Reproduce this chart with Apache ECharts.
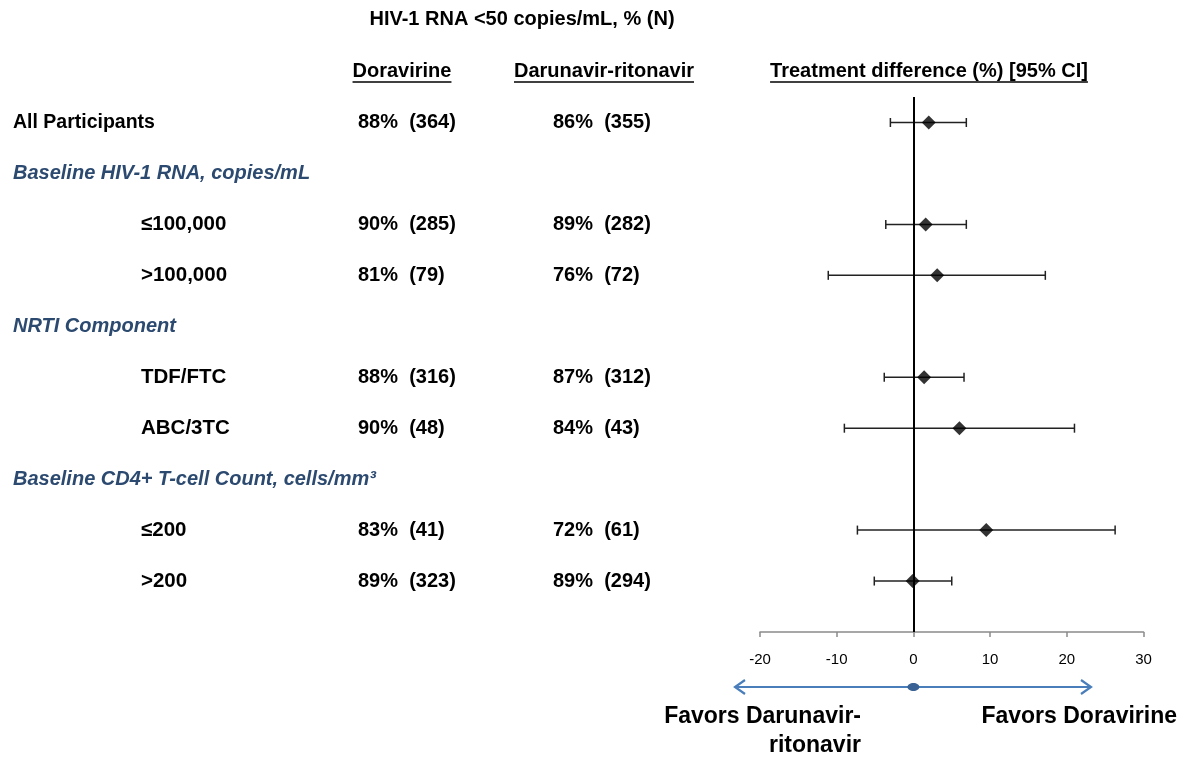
<!DOCTYPE html>
<html>
<head>
<meta charset="utf-8">
<script src="https://cdn.jsdelivr.net/npm/echarts@6/dist/echarts.min.js"></script>
<style>html,body{margin:0;padding:0;background:#fff;}#c{width:1184px;height:759px;}</style>
</head>
<body>
<div id="c"></div>
<script>
// ---- data ----
const rowLabels = ['All Participants','Baseline HIV-1 RNA, copies/mL','≤100,000','>100,000','NRTI Component','TDF/FTC','ABC/3TC','Baseline CD4+ T-cell Count, cells/mm³','≤200','>200'];
const rowTypes = ['main','header','sub','sub','header','sub','sub','header','sub','sub'];
const doraText = ['88%  (364)',null,'90%  (285)','81%  (79)',null,'88%  (316)','90%  (48)',null,'83%  (41)','89%  (323)'];
const daruText = ['86%  (355)',null,'89%  (282)','76%  (72)',null,'87%  (312)','84%  (43)',null,'72%  (61)','89%  (294)'];
const diffEst = [2.0,null,1.6,3.1,null,1.4,6.0,null,9.5,-0.1];
const ciLower = [-3.0,null,-3.6,-11.1,null,-3.8,-9.0,null,-7.3,-5.1];
const ciUpper = [6.9,null,6.9,17.2,null,6.6,21.0,null,26.3,5.0];
const xTicks = [-20,-10,0,10,20,30];
const titleText = 'HIV-1 RNA <50 copies/mL, % (N)';
const colHeads = ['Doravirine','Darunavir-ritonavir','Treatment difference (%) [95% CI]'];
const favorLeft = ['Favors Darunavir-','ritonavir'];
const favorRight = 'Favors Doravirine';

const yVals = rowLabels.map((_, i) => 10 - i);
const FONT = 'Liberation Sans';

const pointData = [], barData = [];
rowLabels.forEach((_, i) => {
  if (diffEst[i] !== null) {
    pointData.push([diffEst[i], yVals[i]]);
    barData.push([ciLower[i], ciUpper[i], yVals[i]]);
  }
});

const chart = echarts.init(document.getElementById('c'), null, {renderer: 'canvas'});
const option = {
  animation: false,
  backgroundColor: '#fff',
  grid: {left: 760, right: 40.5, top: 97, bottom: 127},
  xAxis: {
    type: 'value', min: xTicks[0], max: xTicks[xTicks.length - 1], interval: xTicks[1] - xTicks[0],
    axisLine: {show: true, onZero: false, lineStyle: {color: '#8a8a8a', width: 1.5}},
    axisTick: {show: true, length: 5, lineStyle: {color: '#8a8a8a', width: 1.5}},
    splitLine: {show: false},
    axisLabel: {color: '#000', fontSize: 15, fontFamily: FONT, margin: 20}
  },
  yAxis: {type: 'value', min: 0, max: 10.5, show: false},
  series: [
    {
      type: 'custom',
      renderItem: function (params, api) {
        const p1 = api.coord([api.value(0), api.value(2)]);
        const p2 = api.coord([api.value(1), api.value(2)]);
        const h = 4.5;
        const st = {stroke: '#222', lineWidth: 1.5};
        return {type: 'group', children: [
          {type: 'line', shape: {x1: p1[0], y1: p1[1], x2: p2[0], y2: p2[1]}, style: st},
          {type: 'line', shape: {x1: p1[0], y1: p1[1] - h, x2: p1[0], y2: p1[1] + h}, style: st},
          {type: 'line', shape: {x1: p2[0], y1: p2[1] - h, x2: p2[0], y2: p2[1] + h}, style: st}
        ]};
      },
      encode: {x: [0, 1], y: 2},
      data: barData,
      z: 3
    },
    {
      type: 'scatter',
      symbol: 'diamond',
      symbolSize: 14,
      itemStyle: {color: '#000'},
      data: pointData,
      z: 5,
      markLine: {
        silent: true, symbol: 'none', label: {show: false},
        lineStyle: {color: '#000', width: 2, type: 'solid'},
        data: [{xAxis: 0}]
      }
    }
  ]
};
chart.setOption(option);

// text layout, rows positioned via the chart's own y scale
const ctx = document.createElement('canvas').getContext('2d');
function tw(text, font) { ctx.font = font; return ctx.measureText(text).width; }

const g = [];
const boldF = 'bold 20px "' + FONT + '"';
rowLabels.forEach((lab, i) => {
  const y = chart.convertToPixel({gridIndex: 0}, [0, yVals[i]])[1];
  const t = rowTypes[i];
  g.push({type: 'text', x: t === 'sub' ? 141 : 13, y: y, style: {
    text: lab, fill: t === 'header' ? '#2C4A70' : '#000',
    font: (t === 'header' ? 'italic bold 20px "' : (t === 'sub' ? 'bold 20.5px "' : 'bold 19.5px "')) + FONT + '"',
    textVerticalAlign: 'middle', textAlign: 'left'}});
  if (doraText[i]) g.push({type: 'text', x: 358, y: y, style: {text: doraText[i], fill: '#000', font: boldF, textVerticalAlign: 'middle'}});
  if (daruText[i]) g.push({type: 'text', x: 553, y: y, style: {text: daruText[i], fill: '#000', font: boldF, textVerticalAlign: 'middle'}});
});
g.push({type: 'text', x: 522, y: 19, style: {text: titleText, fill: '#000', font: 'bold 20px "' + FONT + '"', textAlign: 'center', textVerticalAlign: 'middle'}});
const headCenters = [402, 604, 929];
colHeads.forEach((h, k) => {
  const w = tw(h, boldF);
  g.push({type: 'text', x: headCenters[k], y: 71, style: {text: h, fill: '#000', font: boldF, textAlign: 'center', textVerticalAlign: 'middle'}});
  g.push({type: 'line', shape: {x1: headCenters[k] - w / 2, y1: 82, x2: headCenters[k] + w / 2, y2: 82}, style: {stroke: '#000', lineWidth: 1.6}});
});
// favours arrow
const ax0 = chart.convertToPixel({gridIndex: 0}, [0, 0]);
const arrowY = 687, aL = 735, aR = 1091;
const blue = '#4A7EBB';
g.push({type: 'line', shape: {x1: aL, y1: arrowY, x2: aR, y2: arrowY}, style: {stroke: blue, lineWidth: 2.2}});
g.push({type: 'polyline', shape: {points: [[aL + 10, arrowY - 7], [aL, arrowY], [aL + 10, arrowY + 7]]}, style: {stroke: blue, lineWidth: 2.2, fill: null}});
g.push({type: 'polyline', shape: {points: [[aR - 10, arrowY - 7], [aR, arrowY], [aR - 10, arrowY + 7]]}, style: {stroke: blue, lineWidth: 2.2, fill: null}});
g.push({type: 'ellipse', shape: {cx: ax0[0], cy: arrowY, rx: 6, ry: 4}, style: {fill: '#3A6294'}});
const favF = 'bold 23px "' + FONT + '"';
g.push({type: 'text', x: 861, y: 717, style: {text: favorLeft[0], fill: '#000', font: favF, textAlign: 'right', textVerticalAlign: 'middle'}});
g.push({type: 'text', x: 861, y: 746, style: {text: favorLeft[1], fill: '#000', font: favF, textAlign: 'right', textVerticalAlign: 'middle'}});
g.push({type: 'text', x: 1177, y: 717, style: {text: favorRight, fill: '#000', font: favF, textAlign: 'right', textVerticalAlign: 'middle'}});

chart.setOption({graphic: {elements: g}});
</script>
</body>
</html>
